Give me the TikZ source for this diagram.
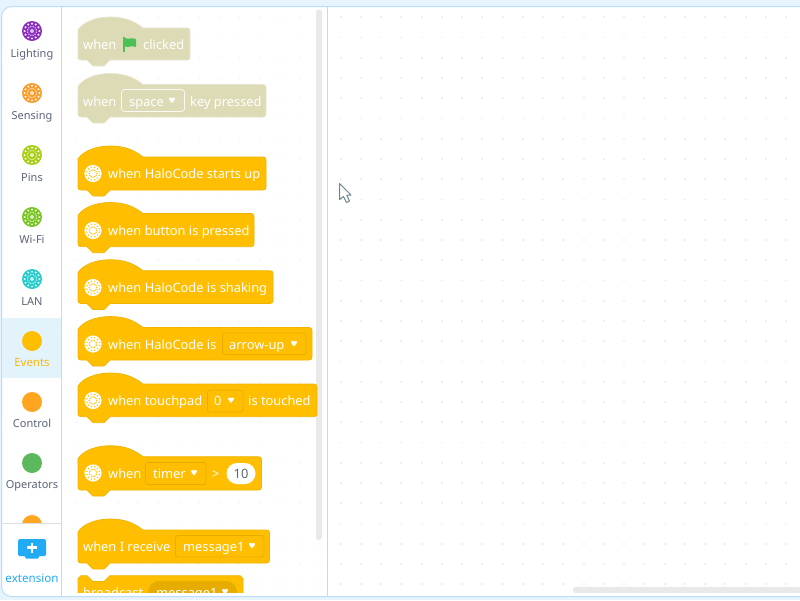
\documentclass[tikz,border=0pt]{standalone}
\usepackage{fontspec}
\setmainfont{Noto Sans}
\definecolor{frameb}{HTML}{BBDDF8}
\definecolor{outer}{HTML}{E8F4FD}
\definecolor{hl}{HTML}{E3F3FC}
\definecolor{ev}{HTML}{FFBF00}
\definecolor{evb}{HTML}{EFB400}
\definecolor{evd}{HTML}{E6AC00}
\definecolor{gr}{HTML}{DDDBB6}
\definecolor{grb}{HTML}{E6E4CC}
\definecolor{lab}{HTML}{5A6478}
\definecolor{bar}{HTML}{E9E9E9}
\definecolor{dotc}{HTML}{EFEFEF}
\definecolor{dotp}{HTML}{F8F8F8}
\definecolor{ext}{HTML}{22ABF5}
\definecolor{flagc}{HTML}{4CBF56}
\definecolor{cLight}{HTML}{8A2BC0}
\definecolor{cSens}{HTML}{FB9B27}
\definecolor{cPins}{HTML}{A6CE10}
\definecolor{cWifi}{HTML}{78C41E}
\definecolor{cLan}{HTML}{20CCCC}
\definecolor{cCtrl}{HTML}{FFA51F}
\definecolor{cOps}{HTML}{5CB85C}
\tikzset{
  evblock/.style={fill=ev,draw=evb,line width=0.7pt},
  grblock/.style={fill=gr,draw=grb,line width=0.7pt},
  blocktext/.style={anchor=base west,text=white,inner sep=0pt,font=\fontsize{12.85}{15}\selectfont},
  ddbox/.style={draw=evd,line width=0.8pt,rounded corners=2.5pt},
  catlabel/.style={anchor=base,text=lab,inner sep=0pt,font=\fontsize{11}{14}\selectfont},
}
\newcommand{\hatblk}[4]{% top, right, bottom, style
  \path[#4] (78,#1+2) .. controls (83,#1-6) and (96,#1-11) .. (110,#1-11)
    .. controls (125,#1-11) and (134,#1-7) .. (143,#1) -- (#2-3,#1)
    .. controls (#2-1,#1) and (#2,#1+1) .. (#2,#1+3) -- (#2,#3-3)
    .. controls (#2,#3-1) and (#2-1,#3) .. (#2-3,#3) -- (110,#3) -- (104,#3+6) -- (93,#3+6) -- (87,#3)
    -- (81,#3) .. controls (79,#3) and (78,#3-1) .. (78,#3-3) -- cycle;
}
\newcommand{\catico}[2]{% y, colour
  \fill[#2] (32,#1) circle[radius=10];
  \foreach \a in {0,30,...,330} {
    \fill[white,opacity=.9] (32,#1) ++(\a:7.4) circle[radius=1.15];
    \fill[white,opacity=.9] (32,#1) ++(\a+15:4.4) circle[radius=.75];
  }
  \fill[white,opacity=.7] (32,#1) circle[radius=2];
}
\newcommand{\blkico}[1]{% y
  \fill[white] (93,#1) circle[radius=8.6];
  \foreach \a in {0,30,...,330} {
    \fill[ev] (93,#1) ++(\a+15:6.4) circle[radius=.8];
    \fill[ev] (93,#1) ++(\a:3.6) circle[radius=.75];
  }
}
\newcommand{\ddtri}[2]{% x, y
  \fill[white,rounded corners=.5pt] (#1-3,#2-2.6) -- (#1-1.5,#2-3) -- (#1,#2-2.5) -- (#1+1.5,#2-3) -- (#1+3,#2-2.6) -- (#1+2.6,#2-.8) -- (#1,#2+2.6) -- (#1-2.6,#2-.8) -- cycle;
}
\begin{document}
\begin{tikzpicture}[x=1pt,y=-1pt]
\useasboundingbox (0,0) rectangle (800,600);
\fill[outer] (0,0) rectangle (800,600);
\draw[frameb,fill=white,line width=1pt,rounded corners=10pt] (1.5,6.5) rectangle (815,596.5);
% dot grid
\foreach \i in {0,...,22} \foreach \j in {0,...,28}
  \fill[dotc] ({340.6+20.25*\i-.9},{17.3+20.25*\j-.9}) rectangle ++(1.8,1.8);
\foreach \i in {-13,...,-1} \foreach \j in {0,...,28}
  \fill[dotp] ({340.6+20.25*\i-.9},{17.3+20.25*\j-.9}) rectangle ++(1.8,1.8);
% highlight and dividers
\fill[hl] (2,317.5) rectangle (61,378);
\draw[frameb,line width=1pt] (61.5,7) -- (61.5,596);
\draw[frameb,line width=1pt] (327.5,7) -- (327.5,596);
% scrollbars
\fill[bar,rounded corners=2.5pt] (316,9.5) rectangle (322,540);
\fill[bar,rounded corners=2.5pt] (573,587) rectangle (810,593);
% categories
\catico{31}{cLight}
\catico{93}{cSens}
\catico{155}{cPins}
\catico{217}{cWifi}
\catico{279}{cLan}
\fill[ev] (32,341) circle[radius=10];
\fill[cCtrl] (32,402) circle[radius=10];
\fill[cOps] (32,463) circle[radius=10];
\begin{scope}
  \clip (2,500) rectangle (61,523);
  \fill[cCtrl] (32,525) circle[radius=10];
\end{scope}
\draw[black!12,line width=.8pt] (2,523.5) -- (61,523.5);
\node[catlabel] (lLighting) at (32,57) {Lighting};
\node[catlabel] (lSensing) at (32,119) {Sensing};
\node[catlabel] (lPins) at (32,181) {Pins};
\node[catlabel] (lWifi) at (32,243) {Wi-Fi};
\node[catlabel] (lLan) at (32,305) {LAN};
\node[catlabel,text=ev!90!orange,font=\fontsize{11.4}{14}\selectfont\bfseries] (lEvents) at (32,366) {Events};
\node[catlabel] (lControl) at (32,427) {Control};
\node[catlabel] (lOps) at (32,488) {Operators};
% extension
\fill[ext,rounded corners=1.5pt] (18,539) rectangle (46,556);
\fill[ext] (24,555) -- (40,555) -- (38,558.5) -- (26,558.5) -- cycle;
\fill[white] (30.6,542.5) rectangle (33.4,552.5);
\fill[white] (27,546.2) rectangle (37,548.8);
\node[catlabel,text=ext,font=\fontsize{11.6}{14}\selectfont] (lExt) at (32,582) {extension};
% palette blocks
\hatblk{28}{190}{60}{grblock}
\node[blocktext] (t1a) at (83,49) {when};
\fill[flagc] (123,37) rectangle (125,52);
\fill[flagc] (125,38) .. controls (128,40) and (131,37) .. (136,39) -- (136,47) .. controls (131,45) and (128,48) .. (125,46.5) -- cycle;
\node[blocktext] (t1b) at (143,49) {clicked};
\hatblk{84.5}{266}{117}{grblock}
\node[blocktext] (t2a) at (83,106) {when};
\draw[white!85!gr,line width=.8pt,rounded corners=3pt] (121.5,89.5) rectangle (184.5,111.5);
\node[blocktext] (t2b) at (129,106) {space};
\ddtri{172}{100.5}
\node[blocktext] (t2c) at (190,106) {key pressed};
\hatblk{157}{266}{190}{evblock}
\blkico{173.5}
\node[blocktext] (t3) at (108,178) {when HaloCode starts up};
\hatblk{213.5}{254}{246.7}{evblock}
\blkico{230.5}
\node[blocktext] (t4) at (108,235) {when button is pressed};
\hatblk{270.7}{273}{303.5}{evblock}
\blkico{287.5}
\node[blocktext] (t5) at (108,292) {when HaloCode is shaking};
\hatblk{327.5}{312}{360}{evblock}
\blkico{344}
\node[blocktext] (t6) at (108,349) {when HaloCode is};
\draw[ddbox] (222.5,333) rectangle (306,354.5);
\node[blocktext] (t6b) at (229,349) {arrow-up};
\ddtri{294}{344}
\hatblk{384}{317}{416.7}{evblock}
\blkico{400.5}
\node[blocktext] (t7) at (108,405.5) {when touchpad};
\draw[ddbox] (207.5,390) rectangle (243,412);
\node[blocktext] (t7b) at (214,405.5) {0};
\ddtri{231}{400.5}
\node[blocktext] (t7c) at (248,405.5) {is touched};
\hatblk{456.7}{261.5}{490}{evblock}
\blkico{473}
\node[blocktext] (t8) at (108,478) {when};
\draw[ddbox] (145.5,462.5) rectangle (206,484.5);
\node[blocktext] (t8b) at (153,478) {timer};
\ddtri{194}{473}
\node[blocktext] (t8c) at (212,478) {>};
\fill[white,rounded corners=10.5pt] (226.5,463) rectangle (255.5,484);
\node[blocktext,anchor=base,text=lab] (t8d) at (241,478) {10};
\hatblk{530}{269.5}{563}{evblock}
\node[blocktext] (t9) at (83,551) {when I receive};
\draw[ddbox] (175.5,535.5) rectangle (264,557);
\node[blocktext] (t9b) at (183,551) {message1};
\ddtri{252}{546}
\begin{scope}
  \clip (62,570) rectangle (327,592);
  \path[evblock] (78,615) -- (78,578.5) -- (81,575.7) -- (87,575.7) -- (93,581.5) -- (104,581.5) -- (110,575.7) -- (240,575.7) -- (243,578.5) -- (243,615) -- cycle;
  \fill[evd,rounded corners=11pt] (148,581) rectangle (237,604);
  \node[blocktext] (t10) at (83,597) {broadcast};
  \node[blocktext] (t10b) at (156,597) {message1};
  \ddtri{225}{592}
\end{scope}
% cursor
\draw[fill=white,draw=black!50!cyan!45!gray,line width=1pt,line join=round]
  (339.5,183.5) -- (339.5,199.5) -- (343.5,196.5) -- (346.5,202.5) -- (349.5,201) -- (346.8,195.3) -- (351,195) -- cycle;
\end{tikzpicture}
\end{document}
